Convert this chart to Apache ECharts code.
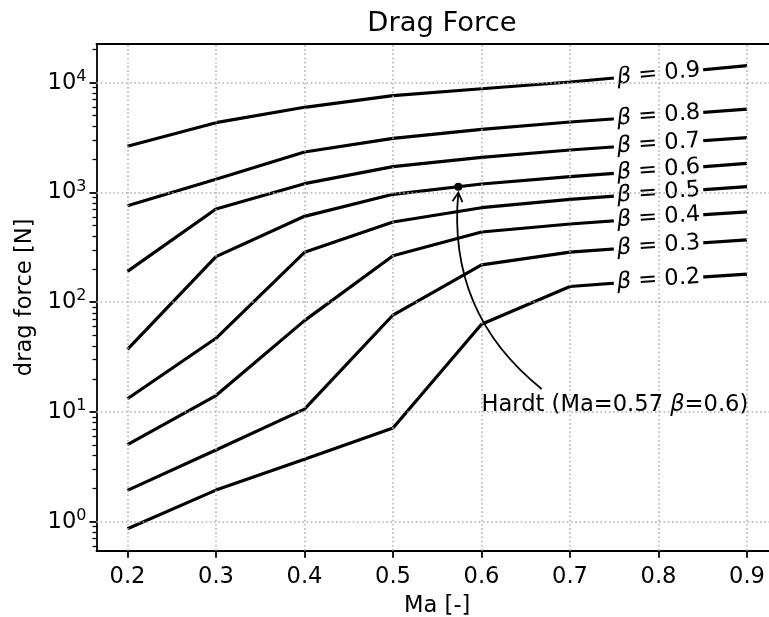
<!DOCTYPE html>
<html><head><meta charset="utf-8">
<script src="https://cdn.jsdelivr.net/npm/echarts@6/dist/echarts.min.js"></script>
<style>html,body{margin:0;padding:0;background:#fff}#c{width:769px;height:617px}</style>
</head><body><div id="c"></div>
<script>
// ---- data ----
const ma = [0.2, 0.3, 0.4, 0.5, 0.6, 0.7, 0.8, 0.9];
const betaNames = ['0.9', '0.8', '0.7', '0.6', '0.5', '0.4', '0.3', '0.2'];
const drag_b09 = [2635, 4324, 5970, 7620, 8815, 10150, 12000, 14290];
const drag_b08 = [757, 1318, 2337, 3113, 3760, 4385, 5000, 5755];
const drag_b07 = [191, 707, 1202, 1718, 2090, 2437, 2780, 3155];
const drag_b06 = [37.2, 260, 606, 962, 1194, 1393, 1600, 1843];
const drag_b05 = [13.2, 46.9, 285, 538, 726, 866, 990, 1128];
const drag_b04 = [5.03, 14.1, 67.9, 265, 436, 516, 590, 665];
const drag_b03 = [1.93, 4.5, 10.6, 76.4, 219, 286, 327, 369];
const drag_b02 = [0.863, 1.94, 3.7, 7.14, 63, 139, 160, 180];
const dragSeries = [drag_b09, drag_b08, drag_b07, drag_b06, drag_b05, drag_b04, drag_b03, drag_b02];
const labelMa = 0.8;
const xTicks = [0.2, 0.3, 0.4, 0.5, 0.6, 0.7, 0.8, 0.9];
const yTickExps = [0, 1, 2, 3, 4];
const hardtPoint = [0.5738, 1128];
const hardtText = [0.6, 10];
const arrowStart = [0.668, 16.2];
const arrowEnd = [0.5738, 995];
const yMinVal = 0.544, yMaxVal = 22530;

// ---- helpers ----
const FONT = 'DejaVu Sans';
const FS = 22.6;
const L = v => Math.log10(v);
const minorTicks = [];
for (let n = -1; n <= 4; n++) for (let k = 2; k <= 9; k++) {
  const v = L(k * Math.pow(10, n));
  if (v >= L(yMinVal) && v <= L(yMaxVal)) minorTicks.push(v);
}
const gridStyle = {color: '#b0b0b0', width: 1.5, type: [1.6, 2.6]};
const gridLines = xTicks.map(v => ({xAxis: v})).concat(yTickExps.map(v => ({yAxis: v})));

const lineSeries = dragSeries.map((arr, i) => ({
  type: 'line', name: 'b' + betaNames[i], z: 3,
  data: ma.map((m, j) => [m, L(arr[j])]),
  showSymbol: false, symbol: 'none', silent: true,
  lineStyle: {color: '#000', width: 3.2}
}));

const betaRich = {
  i: {fontFamily: FONT, fontSize: FS, fontStyle: 'italic', color: '#000'},
  n: {fontFamily: FONT, fontSize: FS, color: '#000'}
};
function labelData(angles) {
  return dragSeries.map((arr, i) => ({
    value: [labelMa, L(arr[ma.indexOf(labelMa)])],
    label: {rotate: angles ? angles[i] : 0, formatter: '{i|β}{n| = ' + betaNames[i] + '}'}
  }));
}
const spine = {show: true, onZero: false, lineStyle: {color: '#000', width: 1.8}};

const option = {
  animation: false,
  backgroundColor: '#fff',
  textStyle: {fontFamily: FONT},
  title: {
    text: 'Drag Force', left: 437, top: 5, textAlign: 'center',
    textStyle: {fontFamily: FONT, fontSize: 27.4, fontWeight: 'normal', color: '#000'}
  },
  grid: {left: 96.5, top: 44, width: 681.5, height: 506.7, show: false, containLabel: false, outerBoundsMode: 'none'},
  xAxis: [{
    type: 'value', min: 0.165, max: 0.935,
    axisLine: spine,
    axisTick: {show: true, customValues: xTicks, length: 7, lineStyle: {color: '#000', width: 1.8}},
    axisLabel: {customValues: xTicks, formatter: v => v.toFixed(1), fontSize: FS, color: '#000', margin: 15, fontFamily: FONT},
    splitLine: {show: false},
    name: 'Ma [-]', nameLocation: 'middle', nameGap: 44,
    nameTextStyle: {fontSize: FS, color: '#000', fontFamily: FONT}
  }, {
    type: 'value', min: 0.165, max: 0.935, position: 'top',
    axisLine: spine, axisTick: {show: false}, axisLabel: {show: false}, splitLine: {show: false}
  }],
  yAxis: [{
    type: 'value', min: L(yMinVal), max: L(yMaxVal),
    axisLine: spine,
    axisTick: {show: true, customValues: yTickExps, length: 7, lineStyle: {color: '#000', width: 1.8}},
    axisLabel: {
      customValues: yTickExps, margin: 10,
      formatter: v => '{b|10}{s|' + Math.round(v) + '}',
      rich: {
        b: {fontFamily: FONT, fontSize: FS, lineHeight: 28, color: '#000'},
        s: {fontFamily: FONT, fontSize: 16, lineHeight: 15, verticalAlign: 'top', color: '#000'}
      }
    },
    splitLine: {show: false},
    name: 'drag force [N]', nameLocation: 'middle', nameGap: 55,
    nameTextStyle: {fontSize: FS, color: '#000', fontFamily: FONT}
  }, {
    type: 'value', min: L(yMinVal), max: L(yMaxVal), position: 'left',
    axisLine: {show: false, onZero: false},
    axisTick: {show: true, customValues: minorTicks, length: 4, lineStyle: {color: '#000', width: 1.3}},
    axisLabel: {show: false}, splitLine: {show: false}
  }],
  series: [
    {
      type: 'line', id: 'grid', data: [[0.2, 0]], showSymbol: false, symbol: 'none',
      lineStyle: {width: 0}, silent: true, z: 1,
      markLine: {silent: true, symbol: 'none', label: {show: false}, lineStyle: gridStyle, data: gridLines, animation: false}
    },
    ...lineSeries,
    {
      type: 'scatter', id: 'lbl', z: 4, symbolSize: 1, silent: true,
      itemStyle: {color: 'rgba(0,0,0,0)', opacity: 1},
      label: {show: true, opacity: 1, position: 'inside', backgroundColor: '#fff', padding: [1, 3], lineHeight: 18, rich: betaRich, color: '#000'},
      data: labelData(null)
    },
    {
      type: 'custom', id: 'arrow', z: 5, silent: true, coordinateSystem: 'cartesian2d',
      data: [[arrowEnd[0], L(arrowEnd[1])]],
      renderItem: (params, api) => {
        const p1 = api.coord([arrowStart[0], L(arrowStart[1])]);
        const p2 = api.coord([arrowEnd[0], L(arrowEnd[1])]);
        const c = 0.27;
        const cp = [(p1[0] + p2[0]) / 2 - (p1[1] - p2[1]) * c, (p1[1] + p2[1]) / 2 - (p2[0] - p1[0]) * c];
        const dx = p2[0] - cp[0], dy = p2[1] - cp[1], len = Math.hypot(dx, dy);
        const ux = dx / len, uy = dy / len, hl = 9, hw = 5;
        const a1 = [p2[0] - ux * hl - uy * hw, p2[1] - uy * hl + ux * hw];
        const a2 = [p2[0] - ux * hl + uy * hw, p2[1] - uy * hl - ux * hw];
        return {type: 'group', children: [
          {type: 'bezierCurve', shape: {x1: p1[0], y1: p1[1], x2: p2[0], y2: p2[1], cpx1: cp[0], cpy1: cp[1]},
           style: {stroke: '#000', lineWidth: 1.8, fill: 'none'}},
          {type: 'polyline', shape: {points: [a1, p2, a2]}, style: {stroke: '#000', lineWidth: 1.8, fill: 'none'}}
        ]};
      }
    },
    {
      type: 'scatter', id: 'hardt', z: 6, symbolSize: 8, silent: true,
      itemStyle: {color: '#000', opacity: 1},
      data: [[hardtPoint[0], L(hardtPoint[1])]]
    },
    {
      type: 'scatter', id: 'hardtText', z: 5, symbolSize: 0, silent: true,
      itemStyle: {opacity: 1},
      data: [[hardtText[0], L(hardtText[1])]],
      label: {
        show: true, opacity: 1, position: 'right', distance: 0, offset: [0, -7],
        formatter: '{n|Hardt (Ma=0.57 }{i|β}{n|=0.6)}', rich: betaRich
      }
    }
  ]
};

const chart = echarts.init(document.getElementById('c'), null, {renderer: 'canvas'});
chart.setOption(option);
// rotate inline labels along the local line direction
const i7 = ma.indexOf(0.7), i9 = ma.indexOf(0.9);
const angles = dragSeries.map(arr => {
  const p1 = chart.convertToPixel({gridIndex: 0}, [ma[i7], L(arr[i7])]);
  const p2 = chart.convertToPixel({gridIndex: 0}, [ma[i9], L(arr[i9])]);
  return Math.atan2(p1[1] - p2[1], p2[0] - p1[0]) * 180 / Math.PI;
});
chart.setOption({series: [{id: 'lbl', data: labelData(angles)}]});
</script>
</body></html>
